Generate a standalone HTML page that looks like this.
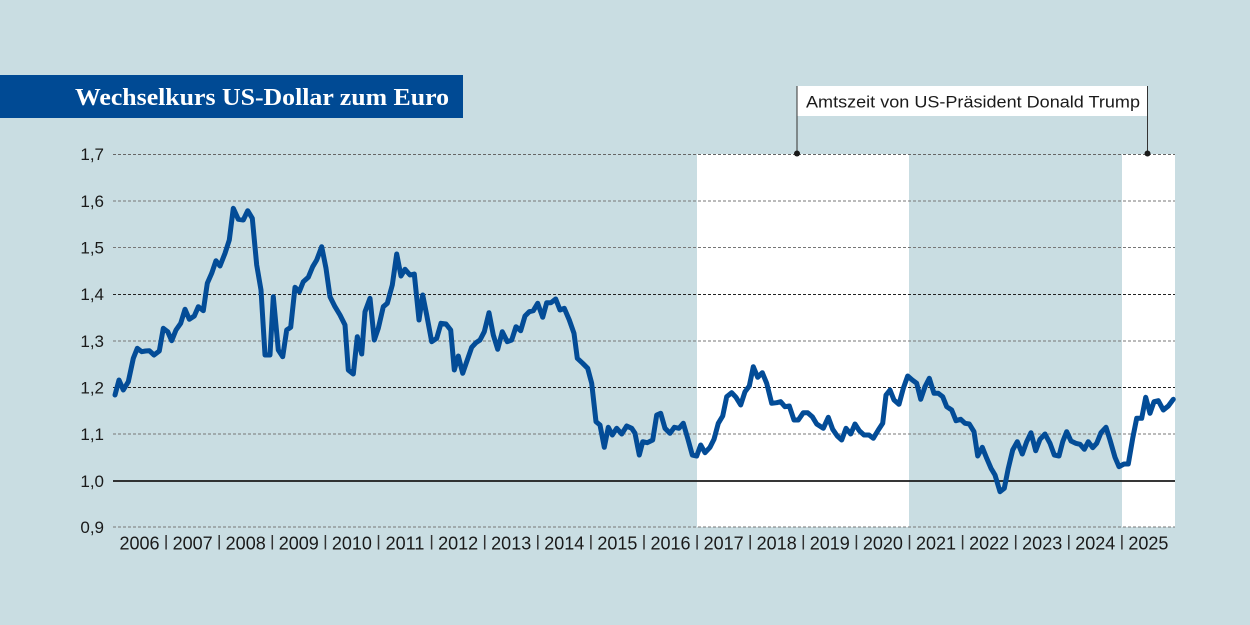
<!DOCTYPE html>
<html>
<head>
<meta charset="utf-8">
<style>
html,body{margin:0;padding:0;background:#c9dde2;}
svg{display:block;}
</style>
</head>
<body>
<svg width="1250" height="625" viewBox="0 0 1250 625" xmlns="http://www.w3.org/2000/svg">
<rect x="0" y="0" width="1250" height="625" fill="#c9dde2"/>
<!-- Title bar -->
<rect x="0" y="75" width="463" height="43" fill="#004a94"/>
<text x="75" y="105" font-family="Liberation Serif, serif" font-weight="bold" font-size="24" fill="#ffffff" textLength="374" lengthAdjust="spacingAndGlyphs">Wechselkurs US-Dollar zum Euro</text>

<!-- White shaded regions (Trump terms) -->
<rect x="697" y="154" width="212" height="373" fill="#ffffff"/>
<rect x="1122" y="154" width="53" height="373" fill="#ffffff"/>

<!-- Gridlines -->
<g stroke-dasharray="3,2" stroke-width="1" fill="none">
<line x1="113" y1="154.5" x2="1175" y2="154.5" stroke="#666"/>
<line x1="113" y1="201" x2="1175" y2="201" stroke="#777"/>
<line x1="113" y1="247.5" x2="1175" y2="247.5" stroke="#777"/>
<line x1="113" y1="294.5" x2="1175" y2="294.5" stroke="#222"/>
<line x1="113" y1="341" x2="1175" y2="341" stroke="#777"/>
<line x1="113" y1="387.5" x2="1175" y2="387.5" stroke="#222"/>
<line x1="113" y1="434" x2="1175" y2="434" stroke="#777"/>
<line x1="113" y1="527" x2="1175" y2="527" stroke="#777"/>
</g>
<line x1="113" y1="481" x2="1175" y2="481" stroke="#1a1a1a" stroke-width="1.8"/>

<!-- Y labels -->
<g font-family="Liberation Sans, sans-serif" font-size="17" fill="#1a1a1a" text-anchor="end">
<text x="104" y="160">1,7</text>
<text x="104" y="207">1,6</text>
<text x="104" y="253.5">1,5</text>
<text x="104" y="300">1,4</text>
<text x="104" y="347">1,3</text>
<text x="104" y="393.5">1,2</text>
<text x="104" y="440">1,1</text>
<text x="104" y="487">1,0</text>
<text x="104" y="533">0,9</text>
</g>

<!-- X labels -->
<g font-family="Liberation Sans, sans-serif" font-size="18" fill="#1a1a1a" text-anchor="middle">
<text x="139.5" y="549.5">2006</text>
<text x="192.6" y="549.5">2007</text>
<text x="245.7" y="549.5">2008</text>
<text x="298.8" y="549.5">2009</text>
<text x="351.9" y="549.5">2010</text>
<text x="405" y="549.5">2011</text>
<text x="458.1" y="549.5">2012</text>
<text x="511.2" y="549.5">2013</text>
<text x="564.3" y="549.5">2014</text>
<text x="617.4" y="549.5">2015</text>
<text x="670.5" y="549.5">2016</text>
<text x="723.6" y="549.5">2017</text>
<text x="776.7" y="549.5">2018</text>
<text x="829.8" y="549.5">2019</text>
<text x="882.9" y="549.5">2020</text>
<text x="936" y="549.5">2021</text>
<text x="989.1" y="549.5">2022</text>
<text x="1042.2" y="549.5">2023</text>
<text x="1095.3" y="549.5">2024</text>
<text x="1148.4" y="549.5">2025</text>
</g>
<g stroke="#333" stroke-width="1.5">
<line x1="166.1" y1="535" x2="166.1" y2="549.5"/>
<line x1="219.2" y1="535" x2="219.2" y2="549.5"/>
<line x1="272.3" y1="535" x2="272.3" y2="549.5"/>
<line x1="325.4" y1="535" x2="325.4" y2="549.5"/>
<line x1="378.5" y1="535" x2="378.5" y2="549.5"/>
<line x1="431.6" y1="535" x2="431.6" y2="549.5"/>
<line x1="484.7" y1="535" x2="484.7" y2="549.5"/>
<line x1="537.8" y1="535" x2="537.8" y2="549.5"/>
<line x1="590.9" y1="535" x2="590.9" y2="549.5"/>
<line x1="644" y1="535" x2="644" y2="549.5"/>
<line x1="697.1" y1="535" x2="697.1" y2="549.5"/>
<line x1="750.2" y1="535" x2="750.2" y2="549.5"/>
<line x1="803.3" y1="535" x2="803.3" y2="549.5"/>
<line x1="856.4" y1="535" x2="856.4" y2="549.5"/>
<line x1="909.5" y1="535" x2="909.5" y2="549.5"/>
<line x1="962.6" y1="535" x2="962.6" y2="549.5"/>
<line x1="1015.7" y1="535" x2="1015.7" y2="549.5"/>
<line x1="1068.8" y1="535" x2="1068.8" y2="549.5"/>
<line x1="1121.9" y1="535" x2="1121.9" y2="549.5"/>
</g>

<!-- Annotation -->
<rect x="797" y="86" width="350" height="30" fill="#ffffff"/>
<line x1="797" y1="86" x2="797" y2="153.5" stroke="#333" stroke-width="1"/>
<line x1="1147.5" y1="86" x2="1147.5" y2="153.5" stroke="#333" stroke-width="1"/>
<circle cx="797" cy="153.5" r="3" fill="#1a1a1a"/>
<circle cx="1147.5" cy="153.5" r="3" fill="#1a1a1a"/>
<text x="806" y="107.5" font-family="Liberation Sans, sans-serif" font-size="17" fill="#1a1a1a" textLength="334" lengthAdjust="spacingAndGlyphs">Amtszeit von US-Präsident Donald Trump</text>

<!-- Data line -->
<polyline fill="none" stroke="#034c97" stroke-width="5" stroke-linejoin="round" stroke-linecap="round" points="
115,395 119,380 123.3,390 128.3,381.7 133.3,358.3 137.3,348.3 141.7,351.7 145.5,351 149.3,350.7 154,355 159.3,351
163.3,328.3 167.7,331.7 171.7,340.7 176,330 180.7,323.3 185,309.3 189.3,319.3 194.3,316 198.3,306.7 203.3,310.7
207.3,283.3 211.7,273.3 216,260.7 220,266 225,253.3 229.3,240 233.3,208.3 238.3,219.3 243.3,220 247.7,210.7 252.3,218.3
256.7,265 261,290 265,355 270,355 273.3,296.7 278.3,350 282.7,356.7 286.7,330 290.7,327.3 295,287.3 299.3,291.7
303.3,281.7 308.3,277.3 312.7,266.7 316.7,260 321.7,246.7 326,268.3 330,296.7 335,306.7 340,315 345,325 348.3,370
353.3,374 357.3,336.7 361.7,354 365,311.7 370,298.3 374.3,340 378.3,328.3 383.3,306.7 387.3,303.3 392.3,285 396.7,254
401,276 405,269.3 410,275 414.3,274 419,320 422.7,295 426.7,315 431.7,341.7 436.7,338.3 441,323.3 446,324 450.7,330
454.3,370 458.3,356 462.7,373.3 466.7,361.7 471.7,347.3 476,342.7 480,340 484.3,331.7 489,312.7 493.3,335 497.7,349.3
502.3,331.7 507.3,341.7 511.7,340 516,326.7 520.7,330.7 525,316 529.3,311.7 533.3,310.7 537.7,303.3 542.7,317.3
546.7,302.7 551,302.7 555.7,299 560,310 564.3,308.3 569.3,320 574,333.3 577.3,358.3 582.7,363.3 587.7,368.3 591.7,383.3
596,421.7 600,425 604.3,447.3 608.3,427.3 612.3,435 616.7,428.3 621.7,434 626.7,426 631.7,428.3 635,433.3 639.3,455
642.7,441.7 647.3,442.7 652.7,440 656.7,415 660.7,413.3 665,428.3 670,433.3 674.3,427.3 679,428.3 683.3,423.3 687.7,438.3
692.3,455 696.7,456 700.7,445 705,452.7 710,447.3 714,439.3 718.3,423.3 722.7,416 726.7,396.7 731.7,392.7 736,397.3
740.7,405 745,391.7 749.3,386 753.3,366.7 757.7,377.3 762.3,372.7 766.7,383.3 771.7,403.3 776.7,402.7 780.7,401.7
785,406.7 789.3,406 794,420 798.3,420 803.3,412.7 807.7,412.7 812.3,416.7 816.7,424 823.3,428.3 828.3,417.3
832.7,429.3 837.3,436 841.7,440 846,428.3 850.7,434 855,424 859.3,430.7 864,435 869,435 873.3,438.3 878.3,430
882.7,423.3 886,395 890,390 894,400 899,404.3 903.3,388.3 907.7,376 912.3,380 916.7,383.3 920.7,399.3 925,386.7
929.3,378.3 934,393.3 938.3,393.3 942.7,396.7 946.7,406.7 951.7,410 956,420.7 960.7,419.3 965,423.3 969.3,424
974,431.7 977.7,456 982.3,447.3 986.7,458.3 991,468.3 995,475 1000,491.7 1004.3,488.3 1008.3,468.3 1012.7,450
1017.3,441.7 1022.3,454 1026.7,441.7 1031,432.7 1035.7,450.7 1040,439.3 1045,434 1050,443.3 1054.3,455 1059,456
1062.7,441.7 1066.7,431.7 1071,441 1075.7,443.3 1080,444.3 1084.3,449.3 1088.3,441.7 1092.7,447.7 1096.7,443.3
1101,432.7 1106,427.3 1110,440 1115,457.3 1119,466.7 1124,464 1128.3,464 1132.7,438.3 1136.7,418.3 1141.7,418.3
1145.7,397.3 1150,413.3 1154,401.7 1158.3,400.7 1163.3,410 1168.3,406 1173.3,399.3"/>
</svg>
</body>
</html>
